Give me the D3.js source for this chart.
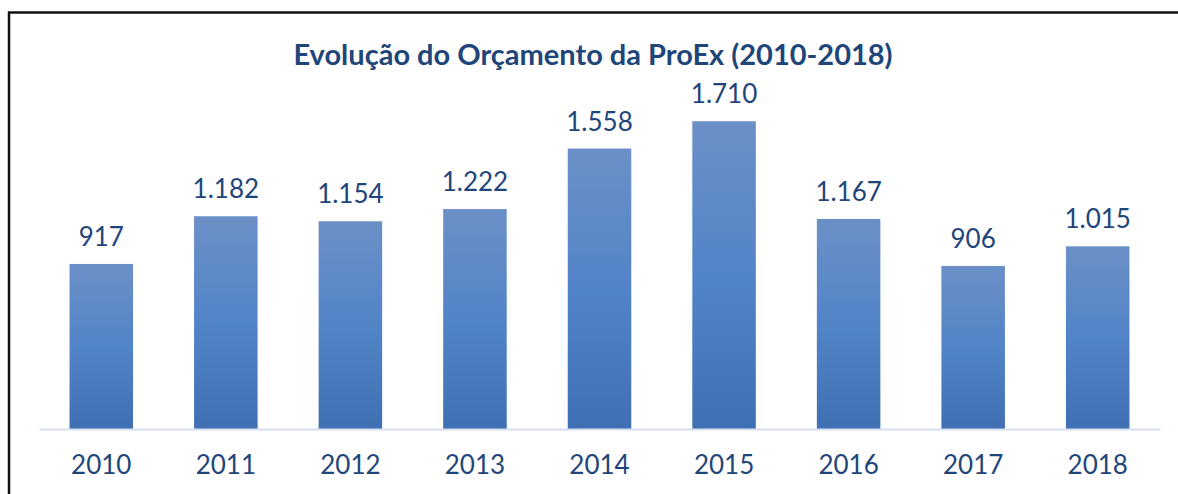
<!DOCTYPE html>
<html>
<head>
<meta charset="utf-8">
<script src="https://cdn.jsdelivr.net/npm/d3@7"></script>
<style>
  body { margin: 0; background: #fff; }
  text { font-family: Lato, "Open Sans", sans-serif; }
</style>
</head>
<body>
<div id="container"></div>
<script>
// data
const years = ["2010", "2011", "2012", "2013", "2014", "2015", "2016", "2017", "2018"];
const budget = [917, 1182, 1154, 1222, 1558, 1710, 1167, 906, 1015];
const chartTitle = "Evolução do Orçamento da ProEx (2010-2018)";

const W = 1178, H = 494;
const margin = {top: 69, right: 18, bottom: 65, left: 39};

const svg = d3.select("#container")
  .append("svg")
    .attr("width", W)
    .attr("height", H);

// frame (only top and left edges fall inside the picture)
svg.append("rect")
  .attr("x", 9)
  .attr("y", 12.5)
  .attr("width", W + 20)
  .attr("height", H + 20)
  .attr("fill", "none")
  .attr("stroke", "#111")
  .attr("stroke-width", 2.5);

const defs = svg.append("defs");
const grad = defs.append("linearGradient")
  .attr("id", "barGrad")
  .attr("x1", 0).attr("y1", 0).attr("x2", 0).attr("y2", 1);
grad.append("stop").attr("offset", "0%").attr("stop-color", "#6b90c7");
grad.append("stop").attr("offset", "50%").attr("stop-color", "#5284c8");
grad.append("stop").attr("offset", "100%").attr("stop-color", "#3e70b3");

const x = d3.scaleBand()
  .domain(years)
  .range([margin.left, W - margin.right])
  .paddingInner(0.49)
  .paddingOuter(0.245);

const y = d3.scaleLinear()
  .domain([0, 2000])
  .range([H - margin.bottom, margin.top]);

const fmt = d3.formatLocale({decimal: ",", thousands: ".", grouping: [3], currency: ["R$", ""]}).format(",d");

const data = years.map((yr, i) => ({year: yr, value: budget[i]}));

svg.append("text")
  .attr("x", 593)
  .attr("y", 65)
  .attr("text-anchor", "middle")
  .attr("font-size", 29)
  .attr("font-weight", "bold")
  .attr("fill", "#1f467a")
  .text(chartTitle);

svg.selectAll(".bar")
  .data(data)
  .join("rect")
    .attr("class", "bar")
    .attr("x", d => x(d.year))
    .attr("y", d => y(d.value))
    .attr("width", x.bandwidth())
    .attr("height", d => y(0) - y(d.value))
    .attr("fill", "url(#barGrad)");

svg.selectAll(".lbl")
  .data(data)
  .join("text")
    .attr("class", "lbl")
    .attr("x", d => x(d.year) + x.bandwidth() / 2)
    .attr("y", d => y(d.value) - 18)
    .attr("text-anchor", "middle")
    .attr("font-size", 26)
    .attr("fill", "#1f467a")
    .text(d => fmt(d.value));

// x axis
const xAxis = svg.append("g")
  .attr("transform", `translate(0,${y(0)})`)
  .call(d3.axisBottom(x).tickSize(0).tickPadding(27));
xAxis.select(".domain")
  .attr("stroke", "#d5dff0")
  .attr("stroke-width", 2);
xAxis.selectAll("text")
  .attr("font-family", "Lato, 'Open Sans', sans-serif")
  .attr("font-size", 26)
  .attr("fill", "#1f467a");
</script>
</body>
</html>
